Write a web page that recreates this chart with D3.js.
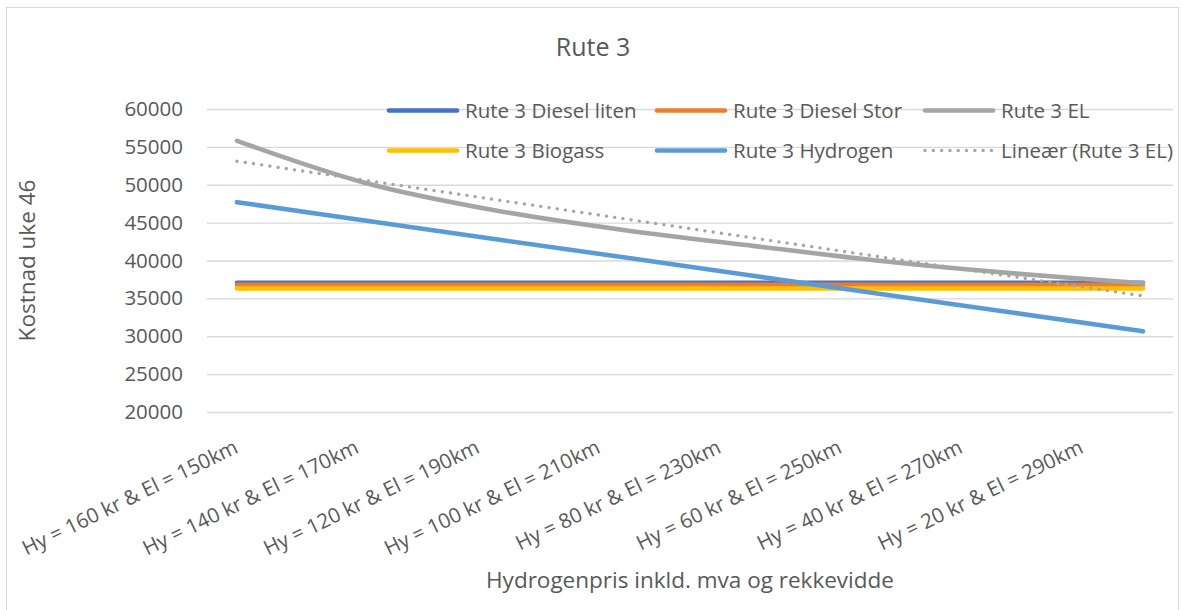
<!DOCTYPE html>
<html>
<head>
<meta charset="utf-8">
<script src="https://cdn.jsdelivr.net/npm/d3@7"></script>
<style>
  body { margin: 0; background: #fff; }
  svg text { font-family: "Open Sans", sans-serif; fill: #595959; }
</style>
</head>
<body>
<div id="chart"></div>
<script>
// data
var categories = [
    "Hy = 160 kr & El = 150km",
    "Hy = 140 kr & El = 170km",
    "Hy = 120 kr & El = 190km",
    "Hy = 100 kr & El = 210km",
    "Hy = 80 kr & El = 230km",
    "Hy = 60 kr & El = 250km",
    "Hy = 40 kr & El = 270km",
    "Hy = 20 kr & El = 290km"
];
var dieselLiten = [37050, 37050, 37050, 37050, 37050, 37050, 37050, 37050];
var dieselStor = [36800, 36800, 36800, 36800, 36800, 36800, 36800, 36800];
var el = [55800, 50200, 46600, 44000, 41900, 39900, 38300, 37000];
var biogass = [36300, 36300, 36300, 36300, 36300, 36300, 36300, 36300];
var hydrogen = [47700, 45250, 42800, 40400, 37950, 35500, 33100, 30650];
var yTicks = [20000, 25000, 30000, 35000, 40000, 45000, 50000, 55000, 60000];

var series = [
    { name: "Rute 3 Diesel liten", values: dieselLiten, color: "#4472C4" },
    { name: "Rute 3 Diesel Stor", values: dieselStor, color: "#ED7D31" },
    { name: "Rute 3 EL", values: el, color: "#A5A5A5", smooth: true },
    { name: "Rute 3 Biogass", values: biogass, color: "#FFC000" },
    { name: "Rute 3 Hydrogen", values: hydrogen, color: "#5B9BD5" }
];

// linear trendline of the EL series (least squares, x = 1..n)
function linearTrend(vals) {
    var n = vals.length;
    var xs = d3.range(1, n + 1);
    var mx = d3.mean(xs), my = d3.mean(vals);
    var sxy = d3.sum(xs, function (x, i) { return (x - mx) * (vals[i] - my); });
    var sxx = d3.sum(xs, function (x) { return (x - mx) * (x - mx); });
    var b = sxy / sxx, a = my - b * mx;
    return xs.map(function (x) { return a + b * x; });
}
var elTrend = linearTrend(el);

var width = 1182, height = 610;
var plot = { left: 207, right: 1173, top: 109, bottom: 412 };

var svg = d3.select("#chart")
    .append("svg")
    .attr("width", width)
    .attr("height", height);

// chart border
svg.append("rect")
    .attr("x", 6.5).attr("y", 7.5)
    .attr("width", 1172).attr("height", 620)
    .attr("fill", "#fff")
    .attr("stroke", "#D9D9D9")
    .attr("stroke-width", 1);

var y = d3.scaleLinear()
    .domain([20000, 60000])
    .range([plot.bottom, plot.top]);

// band scale for the category labels, point scale for the line vertices
var xBand = d3.scaleBand()
    .domain(categories)
    .range([plot.left, plot.right]);
var x = d3.scalePoint()
    .domain(categories)
    .range([plot.left + 30, plot.right - 30]);

// gridlines
svg.append("g")
    .attr("class", "grid")
    .attr("transform", "translate(" + plot.left + ",0)")
    .call(d3.axisLeft(y)
        .tickValues(yTicks)
        .tickSize(-(plot.right - plot.left))
        .tickFormat("")
    )
    .call(function (g) { g.select(".domain").remove(); })
    .selectAll("line")
    .attr("stroke", "#D9D9D9")
    .attr("stroke-width", 1.3);

// y tick labels
svg.append("g")
    .attr("class", "yaxis")
    .attr("transform", "translate(" + (plot.left - 24) + ",0)")
    .call(d3.axisLeft(y).tickValues(yTicks).tickSize(0).tickPadding(0).tickFormat(d3.format("d")))
    .call(function (g) { g.select(".domain").remove(); })
    .selectAll("text")
    .style("font-size", "20.5px")
    .style("font-family", "'Open Sans', sans-serif")
    .attr("fill", "#595959");

// x tick labels (rotated)
svg.append("g")
    .attr("class", "xaxis")
    .selectAll("text")
    .data(categories)
    .enter()
    .append("text")
    .attr("text-anchor", "end")
    .attr("transform", function (d) {
        return "translate(" + (xBand(d) + xBand.bandwidth() / 2 - 28) + ",452) rotate(-26)";
    })
    .style("font-size", "20.5px")
    .text(function (d) { return d; });

// title and axis titles
svg.append("text")
    .attr("x", 593).attr("y", 56)
    .attr("text-anchor", "middle")
    .style("font-size", "25px")
    .text("Rute 3");

svg.append("text")
    .attr("x", (plot.left + plot.right) / 2).attr("y", 588)
    .attr("text-anchor", "middle")
    .style("font-size", "22.5px")
    .text("Hydrogenpris inkld. mva og rekkevidde");

svg.append("text")
    .attr("transform", "translate(35," + (plot.top + plot.bottom) / 2 + ") rotate(-90)")
    .attr("text-anchor", "middle")
    .style("font-size", "22.5px")
    .text("Kostnad uke 46");

// series lines
var line = d3.line()
    .x(function (d, i) { return x(categories[i]); })
    .y(function (d) { return y(d); });

svg.selectAll(".series")
    .data(series)
    .enter()
    .append("path")
    .attr("class", "series")
    .attr("fill", "none")
    .attr("stroke", function (d) { return d.color; })
    .attr("stroke-width", 4.6)
    .attr("stroke-linecap", "round")
    .attr("stroke-linejoin", "round")
    .attr("d", function (d) {
        return line.curve(d.smooth ? d3.curveCardinal : d3.curveLinear)(d.values);
    });

// trendline (dotted)
svg.append("path")
    .attr("class", "trend")
    .attr("fill", "none")
    .attr("stroke", "#A5A5A5")
    .attr("stroke-width", 3.3)
    .attr("stroke-linecap", "round")
    .attr("stroke-dasharray", "0.1 8.2")
    .attr("d", line.curve(d3.curveLinear)(elTrend));

// legend
var legendItems = series.map(function (s) { return { name: s.name, color: s.color, dotted: false }; });
legendItems.push({ name: "Lineær (Rute 3 EL)", color: "#A5A5A5", dotted: true });
var legendCols = [387, 655, 923], legendRows = [110.5, 150.5];

var legend = svg.append("g")
    .attr("class", "legend")
    .selectAll("g")
    .data(legendItems)
    .enter()
    .append("g")
    .attr("transform", function (d, i) {
        return "translate(" + legendCols[i % 3] + "," + legendRows[Math.floor(i / 3)] + ")";
    });

legend.append("line")
    .attr("x1", 2).attr("x2", 70)
    .attr("stroke", function (d) { return d.color; })
    .attr("stroke-width", function (d) { return d.dotted ? 3.3 : 4.6; })
    .attr("stroke-linecap", "round")
    .attr("stroke-dasharray", function (d) { return d.dotted ? "0.1 8.2" : null; });

legend.append("text")
    .attr("x", 78)
    .attr("dy", "0.35em")
    .style("font-size", "20.5px")
    .text(function (d) { return d.name; });
</script>
</body>
</html>
